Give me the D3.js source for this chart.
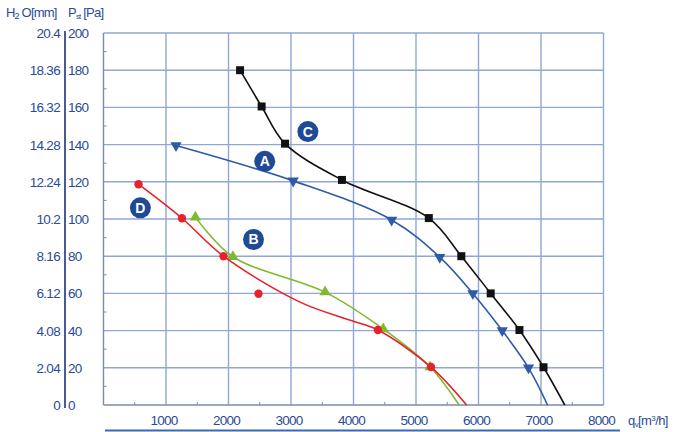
<!DOCTYPE html>
<html><head><meta charset="utf-8">
<script src="https://cdn.jsdelivr.net/npm/d3@7"></script>
<style>body{margin:0;background:#fff}svg{display:block;font-family:"Liberation Sans",Arial,sans-serif}</style>
</head><body><svg id="c" width="682" height="432"></svg>
<script>
const xTicks = [1000,2000,3000,4000,5000,6000,7000,8000];
const paTicks = [0,20,40,60,80,100,120,140,160,180,200];
const mmLabels = ["0","2.04","4.08","6.12","8.16","10.2","12.24","14.28","16.32","18.36","20.4"];

// m: draw marker, l: point lies on drawn curve
const seriesC_q = [2185,2530,2905,3815,5205,5725,6195,6655,7040,7380];
const seriesC_p = [180,160.5,140.5,121,100.5,80,60,40.3,20.3,0];
const seriesC_m = [1,1,1,1,1,1,1,1,1,0];
const seriesC_l = [1,1,1,1,1,1,1,1,1,1];

const seriesA_q = [1160,3035,4610,5380,5910,6380,6800,7105];
const seriesA_p = [139.5,120.5,99.5,79.5,60,40,20,0];
const seriesA_m = [1,1,1,1,1,1,1,0];
const seriesA_l = [1,1,1,1,1,1,1,1];

const seriesD_q = [560,1255,1920,2480,3145,3950,4390,5240,5810];
const seriesD_p = [118.7,100.4,80,59.8,55.3,45.5,40.3,20.4,0];
const seriesD_m = [1,1,1,1,0,0,1,1,0];
const seriesD_l = [1,1,1,0,1,1,1,1,1];

const seriesB_q = [1470,2070,3545,4475,5225,5690];
const seriesB_p = [101,79.7,60.7,40.9,20.4,0];
const seriesB_m = [1,1,1,1,1,0];
const seriesB_l = [1,1,1,1,1,1];

const labels = [
  {t:"C", q:3270, p:147},
  {t:"A", q:2580, p:131},
  {t:"B", q:2400, p:89},
  {t:"D", q:590, p:106}
];

const svg = d3.select("#c");
const x = d3.scaleLinear().domain([0,8000]).range([103.5,603.5]);
const y = d3.scaleLinear().domain([0,200]).range([405,33]);
const gridC = "#8fa6d6", textC = "#2a4b98", axisC = "#1c3277";

const g = svg.append("g");
g.selectAll(".vg").data(xTicks).join("line")
  .attr("x1",d=>x(d)).attr("x2",d=>x(d)).attr("y1",y(0)).attr("y2",y(200))
  .attr("stroke",gridC).attr("stroke-width",1.4);
g.selectAll(".hg").data(paTicks.filter(d=>d>0)).join("line")
  .attr("x1",x(0)).attr("x2",x(8000)).attr("y1",d=>y(d)).attr("y2",d=>y(d))
  .attr("stroke",gridC).attr("stroke-width",1.4);
g.append("line").attr("x1",x(0)).attr("x2",x(0)).attr("y1",y(0)).attr("y2",y(200)).attr("stroke","#7f8aa8").attr("stroke-width",1.4);
g.append("line").attr("x1",x(0)).attr("x2",x(8000)).attr("y1",y(0)).attr("y2",y(0)).attr("stroke","#7f8aa8").attr("stroke-width",1.4);
const minorY = d3.range(10,200,20), minorX = d3.range(500,8000,1000);
g.selectAll(".my").data(minorY).join("line").attr("x1",x(0)).attr("x2",x(0)+3).attr("y1",d=>y(d)).attr("y2",d=>y(d)).attr("stroke","#7f8aa8");
g.selectAll(".mx").data(minorX).join("line").attr("x1",d=>x(d)).attr("x2",d=>x(d)).attr("y1",y(0)).attr("y2",y(0)-3).attr("stroke","#7f8aa8");

svg.append("line").attr("x1",65).attr("x2",65).attr("y1",y(200)-2).attr("y2",y(0)+3).attr("stroke",axisC).attr("stroke-width",1.6);
svg.selectAll(".mm").data(paTicks).join("text")
  .attr("x",60).attr("y",d=>y(d)+5).attr("text-anchor","end")
  .attr("fill",textC).attr("font-size",13.5).attr("letter-spacing",-0.7)
  .text((d,i)=>mmLabels[i]);
svg.selectAll(".pa").data(paTicks).join("text")
  .attr("x",68).attr("y",d=>y(d)+5).attr("text-anchor","start")
  .attr("fill",textC).attr("font-size",13.5).attr("letter-spacing",-0.7)
  .text(d=>d);
const h1 = svg.append("text").attr("x",6).attr("y",17).attr("fill",textC).attr("font-size",13).attr("letter-spacing",-0.8);
h1.append("tspan").text("H");
h1.append("tspan").attr("font-size",9).attr("dy",2).text("2");
h1.append("tspan").attr("dy",-2).text(" O[mm]");
const h2 = svg.append("text").attr("x",68).attr("y",17).attr("fill",textC).attr("font-size",13).attr("letter-spacing",-0.8);
h2.append("tspan").text("P");
h2.append("tspan").attr("font-size",8).attr("dy",2).text("st");
h2.append("tspan").attr("dy",-2).text(" [Pa]");

svg.selectAll(".xl").data(xTicks).join("text")
  .attr("x",d=>x(d)-2).attr("y",425).attr("text-anchor","middle")
  .attr("fill",textC).attr("font-size",13.5).attr("letter-spacing",-0.7).text(d=>d);
svg.append("line").attr("x1",105).attr("x2",620).attr("y1",430.5).attr("y2",430.5).attr("stroke","#3b68b5").attr("stroke-width",2);
const qv = svg.append("text").attr("x",628).attr("y",425).attr("fill",textC).attr("font-size",13).attr("letter-spacing",-0.6);
qv.append("tspan").text("q");
qv.append("tspan").attr("font-size",8).attr("dy",2).text("v");
qv.append("tspan").attr("dy",-2).text("[m");
qv.append("tspan").attr("font-size",8).attr("dy",-4).text("3");
qv.append("tspan").attr("dy",4).text("/h]");

const series = [
  {q:seriesB_q,p:seriesB_p,m:seriesB_m,l:seriesB_l,color:"#7dbb2d",marker:"triUp"},
  {q:seriesD_q,p:seriesD_p,m:seriesD_m,l:seriesD_l,color:"#e5232b",marker:"circle"},
  {q:seriesA_q,p:seriesA_p,m:seriesA_m,l:seriesA_l,color:"#2f5aa8",marker:"triDown"},
  {q:seriesC_q,p:seriesC_p,m:seriesC_m,l:seriesC_l,color:"#111111",marker:"square"}
];
const line = d3.line().x(d=>x(d[0])).y(d=>y(d[1])).curve(d3.curveCatmullRom.alpha(0.5));
series.forEach(s=>{
  const pts = s.q.map((q,i)=>[q,s.p[i],s.m[i],s.l[i]]);
  svg.append("path").attr("d",line(pts.filter(d=>d[3]))).attr("fill","none").attr("stroke",s.color).attr("stroke-width",1.6);
  const mp = pts.filter(d=>d[2]);
  const sym = {triUp:d3.symbolTriangle, triDown:d3.symbolTriangle, circle:d3.symbolCircle, square:d3.symbolSquare}[s.marker];
  const size = {triUp:55, triDown:55, circle:55, square:64}[s.marker];
  svg.selectAll(null).data(mp).join("path")
    .attr("d",d3.symbol().type(sym).size(size))
    .attr("transform",d=>`translate(${x(d[0])},${y(d[1])})`+(s.marker==="triDown"?" rotate(180)":""))
    .attr("fill",s.color);
});

const lg = svg.selectAll(".lab").data(labels).join("g").attr("transform",d=>`translate(${x(d.q)},${y(d.p)})`);
lg.append("circle").attr("r",10.5).attr("fill","#1f4a96");
lg.append("text").attr("text-anchor","middle").attr("y",5).attr("fill","#fff").attr("font-size",14).attr("font-weight","bold").text(d=>d.t);
</script></body></html>
